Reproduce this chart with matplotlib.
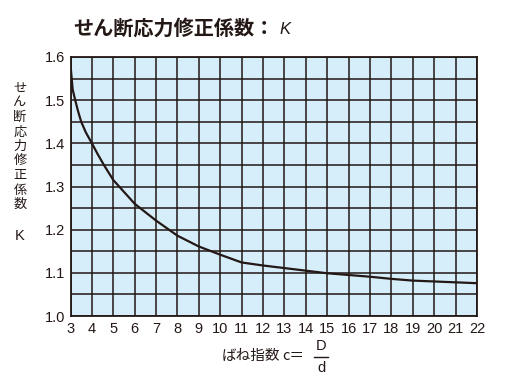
import numpy as np
import matplotlib
matplotlib.use("Agg")
import matplotlib.pyplot as plt

plt.rcParams['font.family'] = ['Noto Sans CJK JP', 'DejaVu Sans']

c_index = [3.0, 3.02, 3.1, 3.22, 3.35, 3.5, 3.72, 4.0, 4.27, 4.56, 5, 6, 7,
           8, 9, 10, 11, 12, 13, 14, 15, 16, 17, 18, 19, 20, 21, 22]
k_factor = [1.60, 1.57, 1.525, 1.50, 1.475, 1.45, 1.425, 1.40, 1.375, 1.35,
            1.315, 1.26, 1.221, 1.186, 1.161, 1.142, 1.124, 1.117, 1.111,
            1.105, 1.099, 1.095, 1.091, 1.086, 1.082, 1.080, 1.078, 1.076]
x_ticks = list(range(3, 23))
y_ticks = [1.0, 1.1, 1.2, 1.3, 1.4, 1.5, 1.6]
y_grid = [1.0 + 0.05 * i for i in range(13)]

W, H = 508, 386
fig = plt.figure(figsize=(W / 100, H / 100), dpi=100)
ax = fig.add_axes([70.5 / W, 1 - 316 / H, (477 - 70.5) / W, (316 - 57) / H])
ax.set_facecolor('#d6edfa')

ax.set_xlim(3, 22)
ax.set_ylim(1.0, 1.6)
ax.set_xticks(x_ticks)
ax.set_yticks(y_ticks)
ax.set_yticklabels(['%.1f' % v for v in y_ticks])
ax.set_yticks(y_grid, minor=True)
ax.tick_params(which='both', length=0, pad=4)
ax.tick_params(labelsize=10.5, labelcolor='#231815')
for lab in ax.get_xticklabels() + ax.get_yticklabels():
    lab.set_family(['Liberation Sans', 'DejaVu Sans'])

for x in x_ticks:
    ax.axvline(x, color='#231815', lw=1.1, zorder=1)
for y in y_grid:
    ax.axhline(y, color='#231815', lw=1.1, zorder=1)
for s in ax.spines.values():
    s.set_color('#231815')
    s.set_linewidth(1.3)

ax.plot(c_index, k_factor, color='#231815', lw=1.6, zorder=3,
        solid_capstyle='round', solid_joinstyle='round')

# title
fig.text(73 / W, 1 - 28 / H, 'せん断応力修正係数：', fontsize=14.5, fontweight='bold',
         color='#231815', va='center', ha='left')
fig.text(279 / W, 1 - 30 / H, 'K', fontsize=12, style='italic',
         family=['Liberation Sans', 'DejaVu Sans'],
         color='#231815', va='center', ha='left')

# vertical y label
ylab = 'せん断応力修正係数'
for i, ch in enumerate(ylab):
    fig.text(20 / W, 1 - (88 + i * 14.6) / H, ch, fontsize=9.5,
             color='#231815', ha='center', va='center')
fig.text(20 / W, 1 - 236 / H, 'K', fontsize=10.5, color='#231815',
         family=['Liberation Sans', 'DejaVu Sans'], ha='center', va='center')

# x label with fraction
fig.text(222 / W, 1 - 356 / H, 'ばね指数', fontsize=10.5, color='#231815',
         ha='left', va='center')
fig.text(282 / W, 1 - 356 / H, 'c＝', fontsize=10.5, color='#231815',
         ha='left', va='center')
fig.text(321 / W, 1 - 346 / H, 'D', fontsize=10.5, color='#231815',
         family=['Liberation Sans', 'DejaVu Sans'], ha='center', va='center')
fig.text(321 / W, 1 - 368 / H, 'd', fontsize=10.5, color='#231815',
         family=['Liberation Sans', 'DejaVu Sans'], ha='center', va='center')
fig.add_artist(plt.Line2D([314 / W, 328 / W], [1 - 357 / H, 1 - 357 / H],
                          color='#231815', lw=1.0))

fig.savefig('out.png', dpi=100, facecolor='white')
